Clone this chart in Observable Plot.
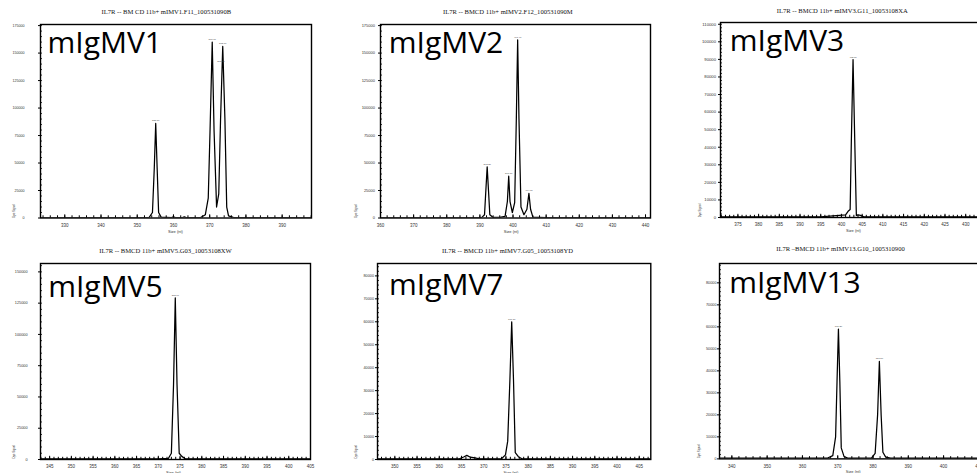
<!DOCTYPE html>
<html><head><meta charset="utf-8">
<script src="https://cdn.jsdelivr.net/npm/d3@7"></script>
<script src="https://cdn.jsdelivr.net/npm/@observablehq/plot@0.6"></script>
<style>
html,body{margin:0;padding:0;background:#fff;}
#wrap{position:relative;width:977px;height:473px;overflow:hidden;background:#fff;}
#wrap svg{position:absolute;overflow:visible;}
</style></head><body><div id="wrap"></div>
<script>
// ---------- data ----------
const titles = [
  "IL7R -- BM CD 11b+ mIMV1.F11_100531090B",
  "IL7R -- BMCD 11b+ mIMV2.F12_100531090M",
  "IL7R -- BMCD 11b+ mIMV3.G11_10053108XA",
  "IL7R -- BMCD 11b+ mIMV5.G03_10053108XW",
  "IL7R -- BMCD 11b+ mIMV7.G05_10053108YD",
  "IL7R \u2013BMCD 11b+ mIMV13.G10_1005310900"
];
const labels = ["mIgMV1", "mIgMV2", "mIgMV3", "mIgMV5", "mIgMV7", "mIgMV13"];
const xAxisTitle = "Size (nt)";
const yAxisTitle = "Dye Signal";

const mv1Size   = [323.3,330,340,350,353.3,354.2,354.7,355.1,355.5,355.9,356.6,359.5,360,360.5,362.5,363,363.5,367.5,368.8,369.6,370.1,370.7,371.2,371.9,372.5,373.0,373.6,374.2,374.7,375.2,376.5,385,398.1];
const mv1Signal = [300,300,300,400,600,5000,45000,86000,45000,5000,800,300,1200,300,300,1000,300,400,3000,18000,80000,160000,80000,10000,22000,90000,156000,90000,10000,2000,500,300,300];
const mv1PeakX = [355.1,370.7,373.1,373.6];
const mv1PeakY = [86000,160000,140000,156000];

const mv2Size   = [360,385,390.6,391.4,391.8,392.2,392.6,393.0,394,396,397.6,398.3,398.7,399.1,399.8,400.5,401.0,401.4,401.8,402.4,403.3,404.2,404.8,405.3,406,410,441.5];
const mv2Signal = [300,300,600,3000,25000,46500,25000,3000,500,500,1500,15000,38000,15000,5000,14000,90000,162000,90000,10000,3000,8000,22400,8000,800,300,300];
const mv2PeakX = [392.2,398.7,401.4,404.8];
const mv2PeakY = [46500,38000,162000,22400];

const mv3Size   = [370.8,395,401.0,401.6,402.1,402.4,402.8,403.2,403.6,404.0,404.6,405.4,438.5];
const mv3Signal = [400,400,1500,3500,4500,45000,89900,45000,1200,1500,1200,400,400];
const mv3PeakX = [402.8];
const mv3PeakY = [89900];

const mv5Size   = [342.9,370,372.3,373.0,373.5,373.9,374.3,374.8,375.4,376.2,405];
const mv5Signal = [500,500,800,5000,60000,129200,60000,5000,2500,600,500];
const mv5PeakX = [373.9];
const mv5PeakY = [129200];

const mv7Size   = [346.1,364.5,365.6,366.2,367.0,368.0,369.0,374.0,374.9,375.4,375.9,376.3,376.7,377.1,377.8,378.6,407.6];
const mv7Signal = [300,300,1200,1800,1000,700,300,300,2000,8000,35000,60000,35000,3000,1200,300,300];
const mv7PeakX = [376.3];
const mv7PeakY = [60000];

const mv13Size   = [336.5,367,368.6,369.4,369.8,370.2,370.6,371.0,371.8,373,379.6,380.6,381.3,381.8,382.3,382.8,383.6,385,413.2];
const mv13Signal = [300,300,1500,10000,35000,59000,35000,5000,1000,300,500,2500,20000,44300,20000,3000,800,300,300];
const mv13PeakX = [370.2,381.8];
const mv13PeakY = [59000,44300];

// ---------- layout (page pixels) ----------
const panels = [
  {size: mv1Size, signal: mv1Signal, pkX: mv1PeakX, pkY: mv1PeakY, xd:[323.3,398.1], yd:[0,176000],
   xMaj:[330,390,10], xMin:2, yStep:25000, yMin:5000, yFont:3.6, yPad:14,
   L:40, R:311, T:23.5, B:217, tX:165.8, tY:12.7, tW:162, lX:47, lY:51.7, lW:126, yLX:12, yLY:210, xLX:175, xLY:231.5},
  {size: mv2Size, signal: mv2Signal, pkX: mv2PeakX, pkY: mv2PeakY, xd:[360,441.5], yd:[0,176000],
   xMaj:[360,440,10], xMin:2, yStep:25000, yMin:5000, yFont:4, yPad:3.5,
   L:380, R:650, T:23.5, B:217, tX:507.3, tY:12.7, tW:162, lX:388.3, lY:51.7, lW:126, yLX:354, yLY:210, xLX:510.7, xLY:231.5},
  {size: mv3Size, signal: mv3Signal, pkX: mv3PeakX, pkY: mv3PeakY, xd:[370.8,438.4], yd:[0,111000],
   xMaj:[375,435,5], xMin:1, yStep:10000, yMin:2000, yFont:4.2, yPad:2.5,
   L:720, R:1000, T:22, B:217, tX:841.7, tY:12.7, tW:170, lX:729.3, lY:50, lW:124.7, yLX:698, yLY:210, xLX:853, xLY:231.5},
  {size: mv5Size, signal: mv5Signal, pkX: mv5PeakX, pkY: mv5PeakY, xd:[342.9,405], yd:[0,156700],
   xMaj:[345,405,5], xMin:1, yStep:25000, yMin:5000, yFont:3.8, yPad:11,
   L:40, R:310, T:262.7, B:458.7, tX:165, tY:252.5, tW:160, lX:47.7, lY:296, lW:126, yLX:12.7, yLY:451, xLX:173, xLY:473},
  {size: mv7Size, signal: mv7Signal, pkX: mv7PeakX, pkY: mv7PeakY, xd:[346.1,407.6], yd:[0,85400],
   xMaj:[350,405,5], xMin:1, yStep:10000, yMin:2000, yFont:3.8, yPad:1.5,
   L:376.7, R:650, T:262.7, B:458.7, tX:506.7, tY:252.5, tW:163, lX:388.3, lY:294.3, lW:123, yLX:354, yLY:451, xLX:510, xLY:473},
  {size: mv13Size, signal: mv13Signal, pkX: mv13PeakX, pkY: mv13PeakY, xd:[336.5,413.2], yd:[0,88800],
   xMaj:[340,410,10], xMin:2, yStep:10000, yMin:2000, yFont:3.8, yPad:1,
   L:719.3, R:990, T:263.3, B:458.7, tX:840.3, tY:250.5, tW:164, lX:729, lY:292.7, lW:145, yLX:698, yLY:451, xLX:853, xLY:473}
];

const wrap = document.getElementById("wrap");
const mL = 36, mR = 4, mT = 26, mB = 18;

panels.forEach((p, i) => {
  const fw = p.R - p.L, fh = p.B - p.T;
  const data = p.size.map((s, k) => ({s, v: p.signal[k]}));
  const peaks = p.pkX.map((x, k) => ({x, y: p.pkY[k], t: x.toFixed(2)}));
  const majX = d3.range(p.xMaj[0], p.xMaj[1] + 1e-6, p.xMaj[2]);
  const minX = d3.range(Math.ceil(p.xd[0] / p.xMin) * p.xMin, p.xd[1], p.xMin);
  const majY = d3.range(0, p.yd[1] + 1, p.yStep);
  const minY = d3.range(p.yMin, p.yd[1], p.yMin);
  const svg = Plot.plot({
    width: fw + mL + mR, height: fh + mT + mB,
    marginLeft: mL, marginRight: mR, marginTop: mT, marginBottom: mB,
    x: {domain: p.xd},
    y: {domain: p.yd},
    style: {background: "transparent", overflow: "visible", fontFamily: "Liberation Sans"},
    marks: [
      Plot.tickX(minX, {x: d => d, insetTop: fh - 2.2, stroke: "#000", strokeWidth: 1}),
      Plot.tickX(majX, {x: d => d, insetTop: fh - 3.2, stroke: "#000", strokeWidth: 1}),
      Plot.tickY(minY, {y: d => d, insetRight: fw - 2, stroke: "#000", strokeWidth: 0.8}),
      Plot.axisX(majX, {tickSize: 0, tickPadding: 5.5, fontSize: 4.5, fill: "#333", tickFormat: d3.format("d"), label: null}),
      Plot.axisY(majY, {tickSize: 2, tickPadding: p.yPad, fontSize: p.yFont, fill: "#333", tickFormat: d3.format("d"), label: null}),
      Plot.line(data, {x: "s", y: "v", stroke: "#000", strokeWidth: 1.25, clip: true}),
      Plot.text(peaks, {x: "x", y: "y", text: "t", dy: -2, fontSize: 2.4, fill: "#444", lineAnchor: "bottom"}),
      Plot.frame({stroke: "#000", strokeWidth: 1.4}),
      Plot.text([titles[i]], {frameAnchor: "top-left", dx: p.tX - p.L, dy: p.tY - p.T, textAnchor: "middle", lineAnchor: "bottom",
        fontSize: 6.6, fontFamily: "Liberation Serif", fill: "#111", ariaLabel: "ptitle"}),
      Plot.text([labels[i]], {frameAnchor: "top-left", dx: p.lX - p.L, dy: p.lY - p.T, textAnchor: "start", lineAnchor: "bottom",
        fontSize: 30, fontFamily: "Open Sans", fill: "#000", ariaLabel: "biglabel"}),
      Plot.text([yAxisTitle], {frameAnchor: "top-left", dx: p.yLX - p.L, dy: p.yLY - p.T, rotate: -90, textAnchor: "middle",
        fontSize: 2.8, fill: "#333"}),
      Plot.text([xAxisTitle], {frameAnchor: "top-left", dx: p.xLX - p.L, dy: p.xLY - p.T, textAnchor: "middle", lineAnchor: "bottom",
        fontSize: 4, fill: "#333"})
    ]
  });
  svg.style.left = (p.L - mL) + "px";
  svg.style.top = (p.T - mT) + "px";
  d3.select(svg).selectAll('g[aria-label="biglabel"] text').attr("textLength", p.lW).attr("lengthAdjust", "spacingAndGlyphs");
  d3.select(svg).selectAll('g[aria-label="ptitle"] text').attr("textLength", p.tW).attr("lengthAdjust", "spacingAndGlyphs");
  wrap.appendChild(svg);
});
</script>
</body></html>
